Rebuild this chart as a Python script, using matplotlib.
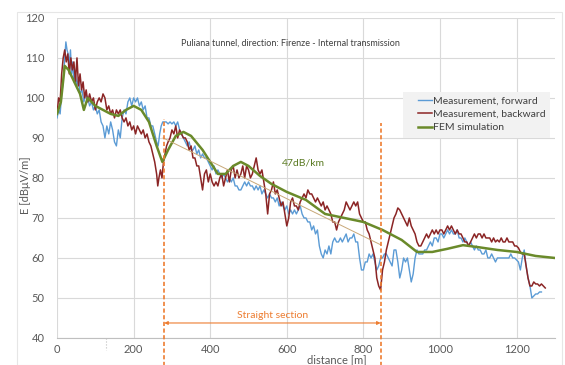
import matplotlib.pyplot as plt
from matplotlib.patches import Rectangle

# distance [m] and field [dBuV/m]
fwd_dist = [0, 4, 8, 12, 16, 20, 23, 26, 29, 32, 35, 38, 41, 44, 48, 52, 56, 60, 65, 70,
            75, 80, 85, 90, 95, 100, 105, 110, 115, 120, 125, 130, 135, 140, 145, 150, 155, 160, 165, 170,
            175, 180, 185, 190, 195, 200, 205, 210, 215, 220, 225, 230, 235, 240, 245, 250, 255, 260, 264, 268,
            272, 276, 280, 285, 290, 295, 300, 305, 310, 315, 320, 325, 330, 335, 340, 345, 350, 355, 360, 365,
            370, 375, 380, 385, 390, 395, 400, 405, 410, 415, 420, 425, 430, 435, 440, 445, 450, 455, 460, 465,
            470, 475, 480, 485, 490, 495, 500, 505, 510, 515, 520, 525, 530, 535, 540, 545, 550, 555, 560, 565,
            570, 575, 580, 585, 590, 595, 600, 605, 610, 615, 620, 625, 630, 635, 640, 645, 650, 655, 660, 665,
            670, 675, 680, 685, 690, 695, 700, 705, 710, 715, 720, 725, 730, 735, 740, 745, 750, 755, 760, 765,
            770, 775, 780, 785, 790, 795, 800, 805, 810, 815, 820, 825, 830, 835, 840, 845, 850, 855, 860, 865,
            870, 875, 880, 885, 890, 895, 900, 905, 910, 915, 920, 925, 930, 935, 940, 945, 950, 955, 960, 965,
            970, 975, 980, 985, 990, 995, 1000, 1005, 1010, 1015, 1020, 1025, 1030, 1035, 1040, 1045, 1050, 1055, 1060, 1065,
            1070, 1075, 1080, 1085, 1090, 1095, 1100, 1105, 1110, 1115, 1120, 1125, 1130, 1135, 1140, 1145, 1150, 1155, 1160, 1165,
            1170, 1175, 1180, 1185, 1190, 1195, 1200, 1205, 1210, 1215, 1220, 1225, 1230, 1235, 1240, 1245, 1250, 1255, 1260, 1265]
fwd_e = [95, 97, 96, 101, 104, 110, 114, 112, 111, 108, 112, 106, 109, 104, 106, 103, 105, 101, 102, 99,
         101, 100, 98, 99, 97, 98, 96, 97, 94, 93, 90, 93, 91, 94, 92, 89, 88, 92, 90, 95,
         97, 96, 99, 100, 98, 100, 99, 100, 98, 99, 97, 98, 95, 95, 93, 93, 91, 89, 88, 91,
         93, 94, 94, 94, 93.5, 94, 93.5, 94, 93, 94, 92, 91, 90, 89, 88, 89, 87, 87, 88, 86,
         87, 85, 86, 85, 85, 84, 83, 82, 83, 81, 82, 81, 80, 81, 80, 79, 80, 79, 80, 78,
         78, 77, 77, 78, 79, 78, 79, 78, 78, 77, 78, 77, 78, 76, 77, 76, 75, 76, 75, 75,
         74, 75, 73, 74, 73, 72, 73, 71, 72, 71, 72, 71, 72, 73, 71, 70, 70, 69, 69, 67,
         68, 66, 67, 63, 61, 60, 62, 61, 63, 61, 64, 65, 64, 64, 65, 64, 65, 66, 64, 65,
         65, 66, 64, 64, 60, 57, 57, 59, 59, 61, 60, 61, 59, 57, 58, 60, 60, 61, 61, 60,
         59, 58, 62, 62, 59, 55, 57, 60, 59, 60, 57, 54, 56, 60, 62, 61, 61, 61, 62, 62,
         63, 64, 63, 65, 65, 64, 66, 66, 65, 66, 67, 66, 67, 66, 66, 67, 65, 65, 64, 65,
         64, 63, 64, 63, 62, 63, 62, 62, 61, 61, 62, 60, 60, 61, 60, 59, 60, 60, 60, 60,
         60, 60, 60, 61, 60, 60, 59.5, 59, 57, 60, 62, 58, 55, 53, 50, 50.5, 51, 51, 51.5, 51.5]

bwd_dist = [0, 4, 8, 12, 16, 20, 24, 28, 32, 36, 40, 44, 48, 52, 56, 60, 64, 68, 72, 76,
            80, 85, 90, 95, 100, 105, 110, 115, 120, 125, 130, 135, 140, 145, 150, 155, 160, 165, 170, 175,
            180, 185, 190, 195, 200, 205, 210, 215, 220, 225, 230, 235, 240, 245, 250, 255, 260, 263, 266, 270,
            274, 278, 282, 286, 290, 295, 300, 305, 310, 315, 320, 325, 330, 335, 340, 345, 350, 355, 360, 365,
            370, 375, 380, 385, 390, 395, 400, 405, 410, 415, 420, 425, 430, 435, 440, 445, 450, 455, 460, 465,
            470, 475, 480, 485, 490, 495, 500, 505, 510, 515, 520, 525, 530, 535, 540, 545, 550, 555, 560, 565,
            570, 575, 580, 585, 590, 595, 600, 605, 610, 615, 620, 625, 630, 635, 640, 645, 650, 655, 660, 665,
            670, 675, 680, 685, 690, 695, 700, 705, 710, 715, 720, 725, 730, 735, 740, 745, 750, 755, 760, 765,
            770, 775, 780, 785, 790, 795, 800, 805, 810, 815, 820, 825, 830, 835, 840, 845, 850, 855, 860, 865,
            870, 875, 880, 885, 890, 895, 900, 905, 910, 915, 920, 925, 930, 935, 940, 945, 950, 955, 960, 965,
            970, 975, 980, 985, 990, 995, 1000, 1005, 1010, 1015, 1020, 1025, 1030, 1035, 1040, 1045, 1050, 1055, 1060, 1065,
            1070, 1075, 1080, 1085, 1090, 1095, 1100, 1105, 1110, 1115, 1120, 1125, 1130, 1135, 1140, 1145, 1150, 1155, 1160, 1165,
            1170, 1175, 1180, 1185, 1190, 1195, 1200, 1205, 1210, 1215, 1220, 1225, 1230, 1235, 1240, 1245, 1250, 1255, 1260, 1265,
            1270, 1275]
bwd_e = [96, 100, 99, 106, 110, 112, 109, 111, 106, 110, 107, 109, 104, 110, 103, 106, 102, 104, 100, 102,
         99, 101, 99, 100, 97, 99, 100, 99, 101, 100, 97, 98, 96, 97, 95, 97, 96, 97, 95, 94,
         95, 93, 94, 92, 93, 91, 93, 92, 91, 92, 90, 91, 89, 88, 86, 84, 81, 78, 80, 82,
         80, 84, 86, 88, 89, 90, 92, 91, 93, 90, 92, 91, 90, 90, 89, 87, 88, 85, 85, 83,
         83, 80, 77, 81, 82, 79, 81, 79, 78, 79, 78, 80, 81, 78, 80, 82, 79, 82, 83, 80,
         82, 80, 81, 83, 80, 83, 82, 80, 81, 83, 85, 82, 81, 82, 79, 76, 71, 76, 77, 79,
         76, 77, 75, 73, 74, 71, 68, 70, 74, 75, 73, 73, 72, 74, 75, 76, 75, 77, 76, 76,
         75, 74, 75, 74, 73, 74, 72, 73, 72, 71, 69, 69, 67, 69, 70, 71, 72, 74, 73, 72,
         73, 74, 73, 74, 71, 70, 69, 69, 67, 66, 64, 62, 60, 55, 53, 52, 57, 59, 62, 64,
         66, 68, 70, 71, 72.5, 72, 71, 70, 69, 68, 70, 68, 67, 66, 64, 63, 63, 64, 65, 66,
         65, 66, 67, 66, 67, 66, 67, 67, 66, 67, 68, 67, 68, 67, 66, 67, 66, 66, 65, 64,
         64, 63, 64, 65, 66, 65, 66, 66, 65, 66, 65, 65, 65, 64, 65, 64, 64.5, 64, 65, 64,
         64, 65, 64, 64, 64, 63, 63, 62.5, 61.5, 61, 61, 58, 55, 53, 53, 54, 53.5, 53.5, 53, 53.5,
         53, 52.5]

fem_dist = [0, 10, 20, 30, 40, 50, 60, 70, 80, 100, 120, 140, 160, 180, 200, 220, 240, 260, 275, 290,
            310, 330, 350, 380, 400, 420, 440, 460, 480, 500, 530, 560, 600, 650, 700, 750, 800, 850, 900, 940,
            980, 1020, 1060, 1100, 1150, 1200, 1250, 1300]
fem_e = [96, 99, 108, 107, 105, 103, 101, 97, 100, 98, 97, 96, 95.5, 97, 98, 97, 94, 88, 84, 87,
         90.5, 91.5, 90.5, 87, 84, 81, 81, 83, 84, 83, 80.5, 78.5, 76.5, 74.5, 71, 70, 69, 67, 64.5, 61.5,
         61.5, 62.3, 63.2, 62.7, 62, 61.5, 60.5, 60]

# 47 dB/km fit over the straight section
fit_dist = [277, 845]
fit_e = [90, 63.3]

section_start = 280
section_end = 845

orange = '#ed7d31'

plt.rcParams['font.family'] = ['Lato', 'DejaVu Sans']

fig = plt.figure(figsize=(5.65, 3.65), dpi=100)
ax = fig.add_axes([0.101, 0.074, 0.881, 0.877])

# faint chart-area frame
fig.patches.append(Rectangle((17 / 565, 0.0), 545 / 565, 1 - 12 / 365,
                             transform=fig.transFigure, fill=False,
                             edgecolor='#e6e6e6', lw=0.8))

ax.plot(fwd_dist, fwd_e, color='#5b9bd5', lw=1.0, label='Measurement, forward', zorder=3)
ax.plot(bwd_dist, bwd_e, color='#8b2525', lw=1.1, label='Measurement, backward', zorder=4)
ax.plot(fem_dist, fem_e, color='#6a8a2a', lw=1.8, label='FEM simulation', zorder=5)
ax.plot(fit_dist, fit_e, color='#c8a878', lw=0.7, zorder=6)

# straight section markers
for xs, ytop in [(section_start, 94.7), (section_end, 93.7)]:
    ax.plot([xs, xs], [33, ytop], color=orange, lw=1.2, ls=(0, (2.5, 1.5)),
            clip_on=False, zorder=7)
ax.annotate('', xy=(section_start, 43.75), xytext=(section_end, 43.75),
            arrowprops=dict(arrowstyle='<|-|>', color=orange, lw=0.8,
                            mutation_scale=5, shrinkA=0, shrinkB=0))
ax.text((section_start + section_end) / 2, 45.6, 'Straight section', color=orange,
        fontsize=7.5, ha='center', va='center')

ax.plot([128, 128], [40, 37], color='#c0c0c0', lw=0.8, ls=':', clip_on=False)

ax.text(0.468, 0.922, 'Puliana tunnel, direction: Firenze - Internal transmission',
        transform=ax.transAxes, fontsize=6.5, color='#404040', ha='center', va='center')
ax.text(0.494, 0.547, '47dB/km', transform=ax.transAxes, fontsize=7.5,
        color='#5a7a22', ha='center', va='center')

ax.set_xlim(0, 1300)
ax.set_ylim(40, 120)
ax.set_xticks(range(0, 1201, 200))
ax.set_yticks(range(40, 121, 10))
ax.grid(True, color='#d9d9d9', lw=0.8)
ax.set_axisbelow(True)
for s in ['top', 'right', 'left']:
    ax.spines[s].set_visible(False)
ax.spines['bottom'].set_color('#bfbfbf')
ax.tick_params(length=0, labelsize=8, labelcolor='#595959')
ax.tick_params(axis='y', pad=9)
ax.tick_params(axis='x', pad=4)

fig.text(0.597, 0.030, 'distance [m]', fontsize=8, color='#595959', ha='center', va='top')
fig.text(0.046, 0.493, 'E [dB\u03bcV/m]', fontsize=8, color='#595959', ha='center',
         va='center', rotation=90)

# legend: grey panel, entries indented inside it
ax.add_patch(Rectangle((403 / 565, 1 - 138 / 365), 147 / 565, 46 / 365,
                       transform=fig.transFigure, facecolor='#f2f2f2',
                       edgecolor='none', zorder=9, clip_on=False))
leg = ax.legend(loc='upper left', bbox_to_anchor=(416 / 565, 1 - 94 / 365),
                bbox_transform=fig.transFigure, fontsize=7.5, frameon=False,
                handlelength=1.3, handletextpad=0.1, labelspacing=0.4,
                borderpad=0.2, borderaxespad=0)
for t in leg.get_texts():
    t.set_color('#404040')
leg.set_zorder(10)

fig.savefig('out.png', dpi=100)
